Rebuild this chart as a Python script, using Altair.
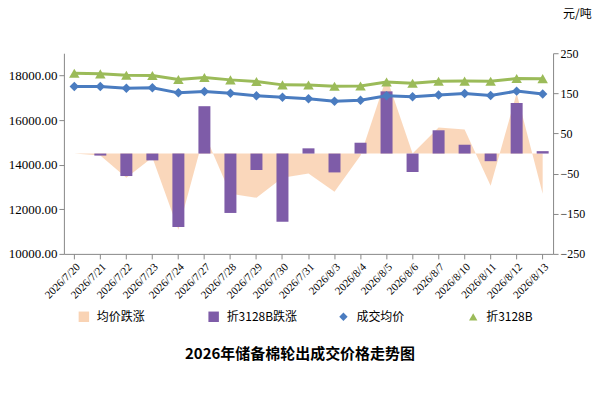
import altair as alt
import pandas as pd

dates = ["2026/7/20", "2026/7/21", "2026/7/22", "2026/7/23", "2026/7/24", "2026/7/27",
         "2026/7/28", "2026/7/29", "2026/7/30", "2026/7/31", "2026/8/3", "2026/8/4",
         "2026/8/5", "2026/8/6", "2026/8/7", "2026/8/10", "2026/8/11", "2026/8/12", "2026/8/13"]
avg_price = [17507, 17507, 17432, 17447, 17223, 17282, 17208, 17088, 17028, 16963,
             16850, 16890, 17097, 17050, 17130, 17190, 17100, 17300, 17170]
price_3128b = [18105, 18075, 18015, 18000, 17820, 17910, 17805, 17730, 17581, 17575,
               17515, 17530, 17710, 17650, 17740, 17750, 17740, 17870, 17860]
avg_change = [0, -5, -60, -10, -190, 50, -100, -110, -60, -50,
              -95, -5, 190, 0, 65, 60, -80, 150, -100]
change_3128b = [0, -5, -56, -17, -183, 118, -148, -41, -170, 13,
                -47, 27, 155, -46, 58, 22, -19, 126, 6]

df = pd.DataFrame({"date": dates, "avg": avg_price, "b3128": price_3128b,
                   "avg_chg": avg_change, "b_chg": change_3128b})

FONT = "SimSun, Noto Sans CJK SC"
x_enc = alt.X("date:N", sort=dates, title=None,
              scale=alt.Scale(paddingInner=0.2, paddingOuter=0),
              axis=alt.Axis(labelAngle=-45, labelFontSize=11, labelColor="#000",
                            domainColor="#888", tickColor="#888", grid=False))
x_mid = alt.X("date:N", sort=dates, bandPosition=0.5)

right_y = alt.Scale(domain=[-250, 250])
left_y = alt.Scale(domain=[10000, 19000])

base = alt.Chart(df)

area = base.mark_area(color="#f9d3b4", opacity=0.9).encode(
    x=x_mid,
    y=alt.Y("avg_chg:Q", scale=right_y, title=None,
            axis=alt.Axis(orient="right", values=list(range(-250, 251, 50)), labelOverlap=False,
                          labelFontSize=12, labelColor="#000", domainColor="#888",
                          tickColor="#888", grid=False, labelFont="Liberation Serif")),
)
bars = base.mark_bar(color="#7e5ca8", width=12).encode(
    x=x_mid,
    y=alt.Y("b_chg:Q", scale=right_y),
    y2=alt.datum(0),
)
right = alt.layer(area, bars)

line_avg = base.mark_line(color="#4a7cc0", strokeWidth=3,
                          point=alt.OverlayMarkDef(shape="diamond", size=90, color="#4a7cc0", filled=True)).encode(
    x=x_mid,
    y=alt.Y("avg:Q", scale=left_y, title=None,
            axis=alt.Axis(values=list(range(10000, 19001, 1000)), format=".2f", labelOverlap=False,
                          labelFontSize=13, labelColor="#000", labelFont="Liberation Serif",
                          domainColor="#888", tickColor="#888", gridColor="#888")),
)
line_b = base.mark_line(color="#9bbb59", strokeWidth=3,
                        point=alt.OverlayMarkDef(shape="triangle-up", size=110, color="#9bbb59", filled=True)).encode(
    x=x_mid,
    y=alt.Y("b3128:Q", scale=left_y),
)
left = alt.layer(line_avg, line_b)

unit = alt.Chart(pd.DataFrame({"t": ["元/吨"]})).mark_text(
    font=FONT, fontSize=12, align="left").encode(
    text="t:N", x=alt.value(500), y=alt.value(-39))

xaxis = base.mark_rule(opacity=0).encode(x=x_enc)
main = alt.layer(xaxis, right, left, unit).resolve_scale(
    y="independent").properties(width=490, height=201)

legend_names = ["均价跌涨", "折3128B跌涨", "成交均价", "折3128B"]
leg = pd.DataFrame({"name": legend_names, "idx": [0, 1, 2, 3]})
lx = alt.X("idx:O", axis=None, scale=alt.Scale(paddingInner=0, paddingOuter=0))
leg_sq = alt.Chart(leg).transform_filter("datum.idx < 2").mark_square(size=110, filled=True, opacity=1).encode(
    x=lx, xOffset=alt.value(-45),
    color=alt.Color("name:N", scale=alt.Scale(domain=legend_names[:2], range=["#f9d3b4", "#7e5ca8"]), legend=None))
leg_pt = alt.Chart(leg).transform_filter("datum.idx >= 2").mark_point(size=70, filled=True, opacity=1).encode(
    x=lx, xOffset=alt.value(-45),
    shape=alt.Shape("name:N", scale=alt.Scale(domain=legend_names[2:], range=["diamond", "triangle-up"]), legend=None),
    color=alt.Color("name:N", scale=alt.Scale(domain=legend_names[2:], range=["#4a7cc0", "#9bbb59"]), legend=None))
leg_tx = alt.Chart(leg).mark_text(font=FONT, fontSize=12, align="left").encode(
    x=lx, xOffset=alt.value(-32), text="name:N")
legend = alt.layer(leg_sq, leg_pt, leg_tx).resolve_scale(color="independent").properties(width=520, height=16)

chart = alt.vconcat(main, legend, spacing=8).properties(
    title=alt.TitleParams("2026年储备棉轮出成交价格走势图", orient="bottom", font=FONT,
                          fontSize=15, fontWeight="bold", offset=22, anchor="middle"),
    padding={"left": 0, "top": 0, "right": 5, "bottom": 5},
).configure_view(strokeWidth=0).configure_axis(labelFont="Liberation Serif")

chart.save("out.html", embed_options={"renderer": "svg", "actions": False})
